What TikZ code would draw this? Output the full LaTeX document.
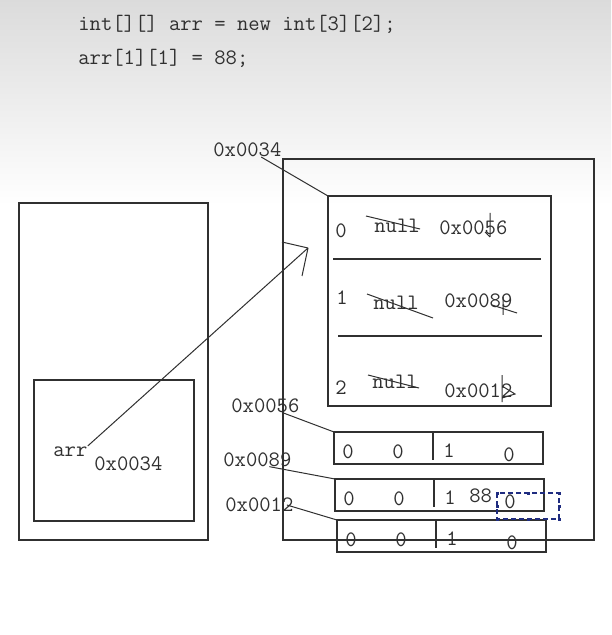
\documentclass[tikz,border=0pt]{standalone}
\usepackage{tikz}
\usetikzlibrary{calc}
\definecolor{ink}{HTML}{303030}
\definecolor{selblue}{HTML}{1F2C80}

\begin{document}
\begin{tikzpicture}[
  x=0.5pt, y=-0.5pt,
  %% Text and line styles
  code/.style   = {font=\ttfamily\fontsize{11}{13}\selectfont, text=ink,
                   inner sep=0pt, anchor=base west},
  frame/.style  = {draw=ink, line width=0.65pt},
  wire/.style   = {draw=ink, line width=0.5pt},
  strike/.style = {draw=ink, line width=0.5pt},
  sel/.style    = {draw=selblue, line width=0.6pt, dash pattern=on 2.5pt off 1.5pt},
  handle/.style = {fill=selblue, inner sep=0pt, minimum size=1.5pt},
]

%% ── Background ─────────────────────────────────────────────────
\useasboundingbox (0,0) rectangle (611,635);
\fill[white] (0,0) rectangle (611,635);
\shade[top color=black!14, bottom color=white] (0,0) rectangle (611,205);

%% ── Source code ────────────────────────────────────────────────
\node[code] (line1) at (78,31) {int[][] arr = new int[3][2];};
\node[code] (line2) at (78,65) {arr[1][1] = 88;};

%% ── Stack ──────────────────────────────────────────────────────
\draw[frame] (19,203) rectangle (208,540);
\draw[frame] (34,380) rectangle (194,521);
\node[code] (arr) at (53,456) {arr};
\node[code] (val) at (94,470) {0x0034};

%% ── Heap: outer array ──────────────────────────────────────────
\draw[frame] (283,159) rectangle (594,540);
\coordinate (tbl) at (328,196);
\draw[frame] (tbl) rectangle (551,406);
\draw[frame] (333,259) -- (541,259);
\draw[frame] (338,336) -- (542,336);

\node[code] (i0) at (335,238) {0};
\node[code] (n0) at (374,233) {null};
\node[code] (a0) at (439,235) {0x0056};
\node[code] (i1) at (336,305) {1};
\node[code] (n1) at (373,310) {null};
\node[code] (a1) at (444,307) {0x0089};
\node[code] (i2) at (335,394) {2};
\node[code] (n2) at (372,388) {null};
\node[code] (a2) at (444,397) {0x0012};

% crossed-out values
\draw[strike] (366,216) -- (420,229);
\draw[strike] (367,294) -- (433,318);
\draw[strike] (368,375) -- (419,388);
\draw[strike] (490,213) -- (490,237) (485,232) -- (490,237);
\draw[strike] (503,297) -- (503,315) (492,305) -- (517,313);
\draw[strike] (502,375) -- (502,402) (502,386) -- (515,394) -- (502,398);

%% ── Heap: inner arrays ─────────────────────────────────────────
\foreach \n/\x/\y in {A/334/432, B/335/479, C/337/520} {
  \coordinate (\n) at (\x,\y);
  \draw[frame] (\n) rectangle ++(209,32);
  \draw[frame] ($(\n)+(99,0)$) -- ++(0,28);
  \node[code] (\n0) at ($(\n)+(8,26)$) {0};
  \node[code] (\n1) at ($(\n)+(58,26)$) {0};
  \node[code] (\n2) at ($(\n)+(109,25)$) {1};
  \node[code] (\n3) at ($(\n)+(169,29)$) {0};
}
\node[code] (new) at (469,502) {88};

% selection frame round the old value
\draw[sel] (497,493) rectangle (559,519);
\foreach \hx/\hy in {497/493, 528/493, 559/493, 497/506, 559/506, 497/519, 528/519, 559/519}
  \node[handle] at (\hx,\hy) {};

%% ── Address labels ─────────────────────────────────────────────
\node[code] (l34) at (213,157) {0x0034};
\node[code] (l56) at (231,412) {0x0056};
\node[code] (l89) at (223,466) {0x0089};
\node[code] (l12) at (225,511) {0x0012};

\draw[wire] ($(l34.base)!0.4!(l34.base east)$) -- (tbl);
\draw[wire] ($(l56.south)!0.5!(l56.south east)$) -- (A);
\draw[wire] ($(l89.south)!0.35!(l89.south east)$) -- (B);
\draw[wire] ($(l12.base)!0.8!(l12.base east)+(0,-6)$) -- (C);

%% ── Reference arrow ────────────────────────────────────────────
\coordinate (tip) at (308,248);
\draw[wire] (arr.north east) -- (tip);
\draw[wire] (tip) -- ++(-26,-6) (tip) -- ++(-6,28);

\end{tikzpicture}
\end{document}
